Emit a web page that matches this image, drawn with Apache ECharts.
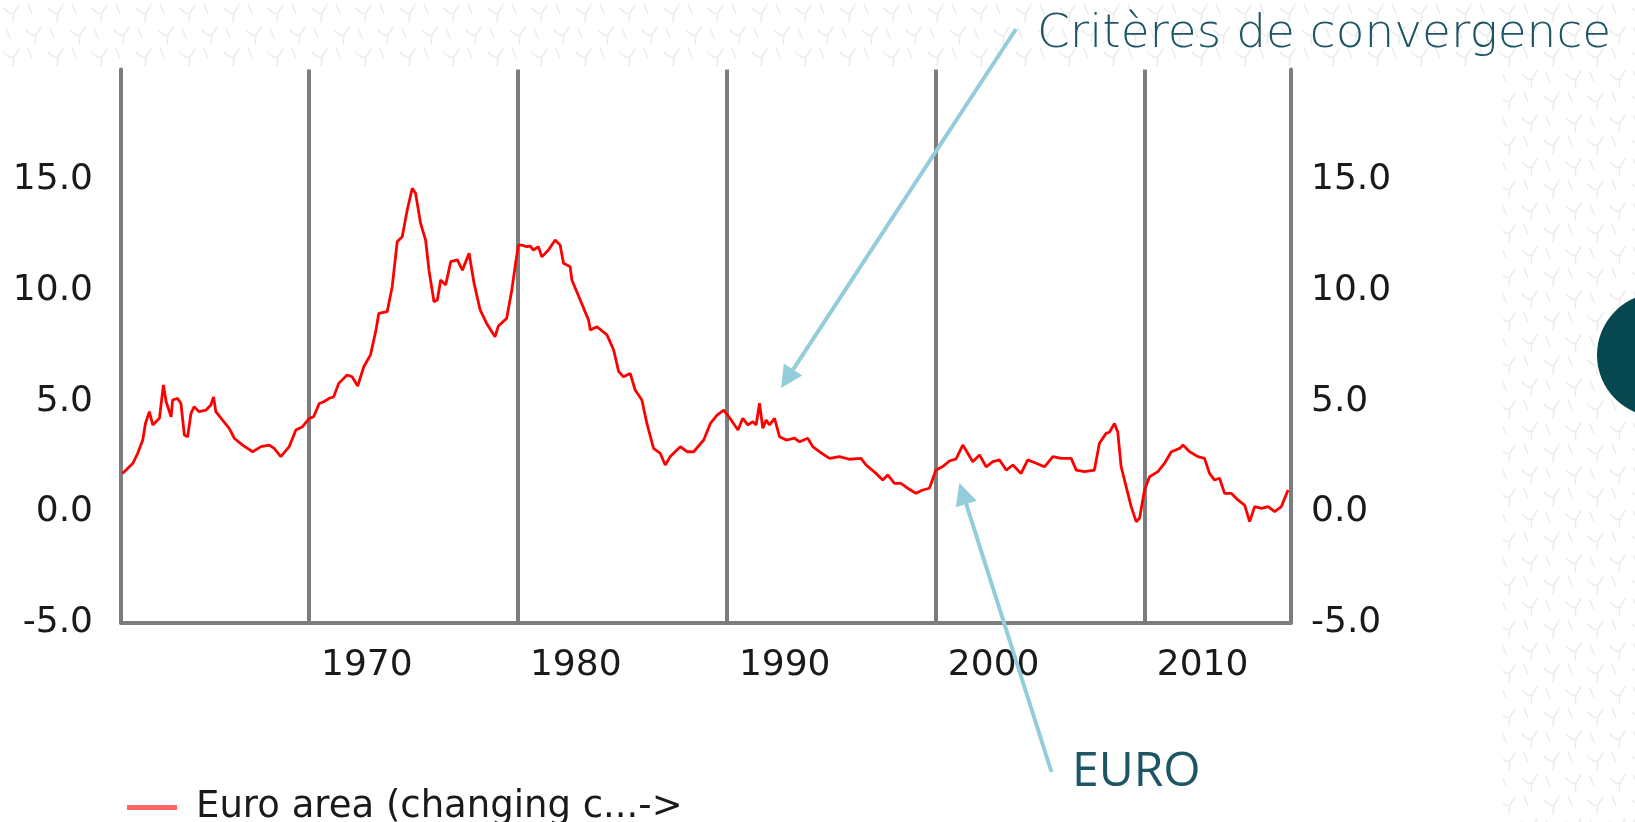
<!DOCTYPE html>
<html>
<head>
<meta charset="utf-8">
<script src="https://cdn.jsdelivr.net/npm/echarts@6/dist/echarts.min.js"></script>
<style>
html,body{margin:0;padding:0;background:#fff;}
#chart{width:1635px;height:822px;}
</style>
</head>
<body>
<div id="chart"></div>
<script>
// ---- data ----
const seriesName = 'Euro area (changing c...->';
const years = [
1961.07,1961.57,1961.8,1962.04,1962.17,1962.36,1962.52,1962.84,1963.03,1963.16,1963.4,1963.47,1963.71,1963.87,
1964.03,1964.19,1964.35,1964.5,1964.74,1965.06,1965.3,1965.43,1965.54,1965.86,1966.18,1966.42,1966.82,1967.3,
1967.7,1968.1,1968.33,1968.65,1969.05,1969.37,1969.69,1970.01,1970.22,1970.49,1970.7,1971.0,1971.18,1971.42,
1971.82,1972.06,1972.33,1972.62,1972.94,1973.2,1973.34,1973.74,1973.98,1974.22,1974.46,1974.7,1974.94,1975.1,
1975.34,1975.58,1975.74,1975.98,1976.14,1976.3,1976.54,1976.78,1977.1,1977.34,1977.66,1977.9,1978.19,1978.5,
1978.9,1979.06,1979.46,1979.7,1979.85,1980.02,1980.18,1980.42,1980.58,1980.74,1980.98,1981.14,1981.46,1981.78,
1982.02,1982.18,1982.5,1982.58,1982.98,1983.38,1983.46,1983.78,1984.26,1984.58,1984.82,1985.05,1985.37,1985.61,
1985.93,1986.17,1986.49,1986.81,1987.05,1987.29,1987.77,1988.09,1988.41,1988.89,1989.21,1989.53,1989.85,1990.17,
1990.53,1990.76,1991.0,1991.24,1991.4,1991.56,1991.72,1991.88,1992.04,1992.28,1992.52,1992.84,1993.24,1993.48,
1993.87,1994.11,1994.43,1994.91,1995.39,1995.86,1996.42,1996.66,1997.14,1997.46,1997.7,1998.02,1998.33,1998.65,
1999.05,1999.37,1999.69,2000.01,2000.33,2000.65,2000.97,2001.29,2001.53,2001.77,2002.09,2002.41,2002.73,2003.05,
2003.37,2003.69,2004.08,2004.4,2004.8,2005.2,2005.6,2006.0,2006.48,2006.72,2007.12,2007.59,2007.83,2008.15,
2008.31,2008.55,2008.71,2008.87,2009.11,2009.35,2009.59,2009.75,2009.99,2010.23,2010.63,2010.95,2011.27,2011.67,
2011.83,2012.15,2012.54,2012.86,2013.1,2013.34,2013.58,2013.82,2014.14,2014.46,2014.78,2015.02,2015.26,2015.58,
2015.9,2016.22,2016.54,2016.86
];
const values = [
1.74,2.2,2.65,3.25,4.0,4.53,3.93,4.23,5.74,4.98,4.3,5.06,5.13,4.9,
3.48,3.4,4.46,4.75,4.53,4.6,4.83,5.2,4.53,4.15,3.78,3.33,3.02,2.72,
2.95,3.02,2.87,2.5,2.95,3.7,3.85,4.23,4.3,4.9,4.98,5.15,5.2,5.81,
6.19,6.11,5.69,6.56,7.1,8.2,8.98,9.05,10.18,12.21,12.44,13.65,14.63,14.4,
13.04,12.29,10.93,9.5,9.58,10.48,10.26,11.31,11.39,10.93,11.69,10.33,9.13,8.52,
7.92,8.4,8.75,10.0,11.0,12.06,12.06,11.99,12.02,11.84,11.99,11.53,11.84,12.29,
12.06,11.24,11.08,10.48,9.58,8.67,8.22,8.37,8.0,7.32,6.34,6.11,6.26,5.51,
5.06,4.0,2.87,2.65,2.12,2.5,2.95,2.72,2.72,3.25,4.0,4.38,4.6,4.2,
3.7,4.23,3.93,4.08,3.93,4.91,3.78,4.15,3.93,4.23,3.4,3.25,3.33,3.17,
3.33,2.95,2.72,2.42,2.5,2.38,2.42,2.12,1.74,1.44,1.67,1.29,1.29,1.07,
0.84,0.99,1.07,1.89,2.05,2.3,2.4,3.02,2.65,2.27,2.57,2.04,2.27,2.35,
1.89,2.12,1.74,2.35,2.2,2.04,2.5,2.42,2.42,1.89,1.82,1.89,3.1,3.55,
3.6,4.0,3.6,2.04,1.14,0.24,-0.44,-0.29,0.99,1.59,1.82,2.2,2.72,2.87,
3.02,2.72,2.5,2.42,1.74,1.44,1.52,0.84,0.84,0.54,0.31,-0.44,0.24,0.16,
0.24,0.01,0.24,0.99
];
const xTicks = [1970, 1980, 1990, 2000, 2010];
const yMin = -5, yMax = 20, yStep = 5;
const xMin = 1961, xMax = 2017;
const noteTop = 'Critères de convergence';
const noteEuro = 'EURO';

// ---- background pattern ----
function makePattern(){
  const s = 44;
  const c = document.createElement('canvas');
  c.width = s; c.height = s;
  const g = c.getContext('2d');
  g.fillStyle = '#ffffff'; g.fillRect(0,0,s,s);
  g.strokeStyle = '#ebebeb'; g.lineWidth = 1.5; g.lineCap = 'round';
  g.beginPath();
  g.moveTo(4,8); g.quadraticCurveTo(10,15,14,13); g.lineTo(19,5);
  g.moveTo(14,13); g.lineTo(13,22);
  g.moveTo(26,30); g.quadraticCurveTo(32,37,36,35); g.lineTo(41,27);
  g.moveTo(36,35); g.lineTo(35,44);
  g.moveTo(28,4); g.lineTo(32,14);
  g.moveTo(6,28); g.lineTo(10,38);
  g.stroke();
  return c;
}

function arrow(x1,y1,x2,y2,color){
  const dx = x2-x1, dy = y2-y1, L = Math.sqrt(dx*dx+dy*dy);
  const ux = dx/L, uy = dy/L, nx = -uy, ny = ux;
  const hl = 22, hw = 11;
  const bx = x2-hl*ux, by = y2-hl*uy;
  return [
    {type:'line', z:50, shape:{x1:x1,y1:y1,x2:bx,y2:by}, style:{stroke:color, lineWidth:4}},
    {type:'polygon', z:50, shape:{points:[[x2,y2],[bx+hw*nx,by+hw*ny],[bx-hw*nx,by-hw*ny]]}, style:{fill:color}}
  ];
}

const arrowColor = '#93cddb';
const teal = '#1d5565';
const axisGray = '#7d7d7d';
const labelFont = 'DejaVu Sans';
const labelColor = '#1a1a1a';

const chart = echarts.init(document.getElementById('chart'), null, {renderer:'canvas'});
const option = {
  animation:false,
  backgroundColor:{image: makePattern(), repeat:'repeat'},
  grid:{left:121, right:344, top:69.5, bottom:199.5, containLabel:false},
  legend:{
    show:true, left:122, top:784, icon:'rect', itemWidth:50, itemHeight:5,
    itemStyle:{color:'#ff6464'},
    textStyle:{fontFamily:labelFont, fontSize:37, color:labelColor, padding:[0,0,0,14]},
    data:[seriesName]
  },
  xAxis:{
    type:'value', min:xMin, max:xMax,
    axisLine:{show:true, onZero:false, lineStyle:{color:axisGray, width:4}},
    axisTick:{show:false, customValues:xTicks},
    axisLabel:{customValues:xTicks, align:'left', padding:[0,0,0,12], margin:25,
      fontFamily:labelFont, fontSize:36, color:labelColor, formatter:v=>String(v)},
    splitLine:{show:true, lineStyle:{color:axisGray, width:4}}
  },
  yAxis:[
    {type:'value', min:yMin, max:yMax, interval:yStep, position:'left',
     axisLine:{show:true, lineStyle:{color:axisGray, width:4}},
     axisTick:{show:false}, splitLine:{show:false},
     axisLabel:{margin:28, fontFamily:labelFont, fontSize:36, color:labelColor,
       formatter:v=> v===yMax ? '' : v.toFixed(1)}},
    {type:'value', min:yMin, max:yMax, interval:yStep, position:'right',
     axisLine:{show:true, lineStyle:{color:axisGray, width:4}},
     axisTick:{show:false}, splitLine:{show:false},
     axisLabel:{margin:20, fontFamily:labelFont, fontSize:36, color:labelColor,
       formatter:v=> v===yMax ? '' : v.toFixed(1)}}
  ],
  series:[{
    name:seriesName, type:'line', showSymbol:false, symbol:'none',
    data: years.map((y,i)=>[y, values[i]]),
    lineStyle:{color:'#ff0000', width:2.8}, itemStyle:{color:'#ff0000'},
    z:5
  }],
  graphic:[
    {type:'rect', z:-100, shape:{x:0,y:66,width:1503,height:756}, style:{fill:'#ffffff'}},
    {type:'circle', z:-50, shape:{cx:1659, cy:355, r:62}, style:{fill:'#07474f'}},
    {type:'text', z:60, left:1037, top:11, style:{text:noteTop, fill:teal, font:'200 47px "DejaVu Sans"'}},
    {type:'text', z:60, left:1072, top:748, style:{text:noteEuro, fill:teal, font:'48px "Open Sans"'}}
  ].concat(arrow(1016,29,781,388,arrowColor)).concat(arrow(1051.5,772,959.5,483,arrowColor))
};
chart.setOption(option);
</script>
</body>
</html>
